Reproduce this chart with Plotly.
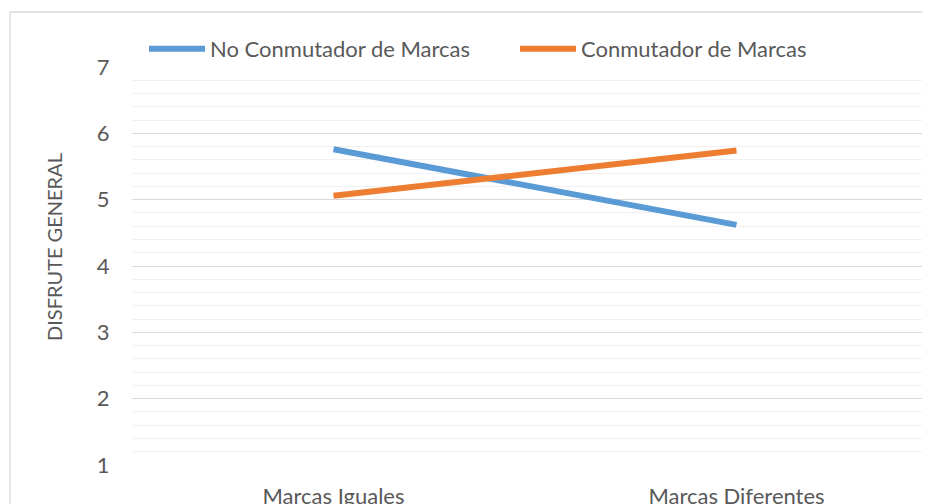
import plotly.graph_objects as go

categories = ["Marcas Iguales", "Marcas Diferentes"]
series_names = ["No Conmutador de Marcas", "Conmutador de Marcas"]
no_conmutador = [5.76, 4.62]
conmutador = [5.06, 5.74]
y_ticks = [1, 2, 3, 4, 5, 6, 7]
colors = ["#5B9BD5", "#ED7D31"]

# page body has an 8px margin, so figure coords = screen coords - 8
OFF = 8
W, H = 930, 504
L, R = 132 - OFF, 0
T = 67 - OFF
B = H - (465 - OFF)
FONT = "Lato"
TXT = "#595959"
FS = 22

fig = go.Figure()
for name, vals, c in zip(series_names, [no_conmutador, conmutador], colors):
    fig.add_trace(go.Scatter(
        x=list(range(len(categories))), y=vals, name=name, mode="lines",
        line=dict(color=c, width=6),
    ))

pw = W - L - R
ph = H - T - B


def px_x(sx):
    return (sx - OFF - L) / pw


def px_y(sy):
    return (H - B - (sy - OFF)) / ph


fig.update_layout(
    template="none",
    width=W, height=H,
    margin=dict(l=L, r=R, t=T, b=B, pad=0, autoexpand=False),
    paper_bgcolor="white", plot_bgcolor="white",
    font=dict(family=FONT, color=TXT, size=FS),
    showlegend=True,
    legend=dict(orientation="h", x=px_x(144), y=px_y(28),
                xanchor="left", yanchor="top", font=dict(size=FS, color=TXT, family=FONT),
                entrywidth=300, entrywidthmode="pixels", itemwidth=56,
                bgcolor="rgba(0,0,0,0)", borderwidth=0),
    xaxis=dict(
        range=[-0.5, 1.5], tickvals=list(range(len(categories))), ticktext=categories,
        showgrid=False, zeroline=False, showline=False, automargin=False,
        ticks="outside", ticklen=12, tickcolor="rgba(0,0,0,0)",
        tickfont=dict(size=FS, color=TXT, family=FONT),
    ),
    yaxis=dict(
        range=[1, 7], tickvals=y_ticks, showgrid=True, gridcolor="#D9D9D9", gridwidth=1.3,
        zeroline=False, showline=False, automargin=False,
        minor=dict(dtick=0.2, tick0=1, showgrid=True, gridcolor="#F0F0F0", gridwidth=1.3),
        ticks="outside", ticklen=17, tickcolor="rgba(0,0,0,0)",
        tickfont=dict(size=FS, color=TXT, family=FONT),
    ),
    annotations=[
        dict(text="DISFRUTE GENERAL", textangle=-90, xref="paper", yref="paper",
             x=px_x(54), y=px_y(247), xanchor="center", yanchor="middle", showarrow=False,
             font=dict(size=20, color=TXT, family=FONT)),
    ],
    shapes=[
        dict(type="line", xref="paper", yref="paper",
             x0=px_x(10), x1=1.05, y0=px_y(12), y1=px_y(12),
             line=dict(color="#D9D9D9", width=1.3)),
        dict(type="line", xref="paper", yref="paper",
             x0=px_x(10), x1=px_x(10), y0=px_y(12), y1=-0.3,
             line=dict(color="#D9D9D9", width=1.3)),
    ],
)
fig.write_html("out.html")
